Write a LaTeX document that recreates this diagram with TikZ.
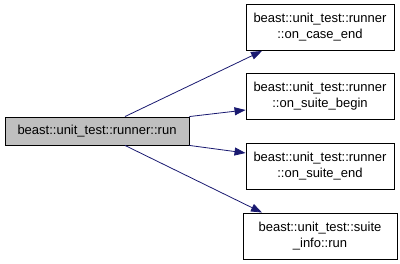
\documentclass[tikz,border=0pt]{standalone}
\usepackage{fontspec}
\setmainfont{Liberation Sans}
\usetikzlibrary{arrows.meta}
\definecolor{edgeblue}{HTML}{191970}
\definecolor{nodegray}{HTML}{BFBFBF}
\begin{document}
\begin{tikzpicture}[x=1pt,y=1pt,
  fn/.style={draw=black, line width=0.9pt, fill=white, align=center,
    font=\fontsize{13}{16}\selectfont, inner sep=0pt},
  call/.style={draw=edgeblue, line width=0.8pt,
    -{Triangle[length=11pt,width=8pt]}}]
\useasboundingbox (0,0) rectangle (400,264);
\node[fn, fill=nodegray, minimum width=184, minimum height=28] (run) at (97,133) {beast::unit\_test::runner::run};
\node[fn, minimum width=148, minimum height=46] (b1) at (320,236.5) {beast::unit\_test::runner\\::on\_case\_end};
\node[fn, minimum width=148, minimum height=46] (b2) at (320,167.5) {beast::unit\_test::runner\\::on\_suite\_begin};
\node[fn, minimum width=148, minimum height=46] (b3) at (320,97.5) {beast::unit\_test::runner\\::on\_suite\_end};
\node[fn, minimum width=154, minimum height=46] (b4) at (320,28) {beast::unit\_test::suite\\\_info::run};
\draw[call] ([xshift=28]run.north) -- ([xshift=-58]b1.south);
\draw[call] (run.north east) -- ([yshift=-13.5]b2.west);
\draw[call] (run.south east) -- ([yshift=13.5]b3.west);
\draw[call] ([xshift=28]run.south) -- ([xshift=-58]b4.north);
\end{tikzpicture}
\end{document}
